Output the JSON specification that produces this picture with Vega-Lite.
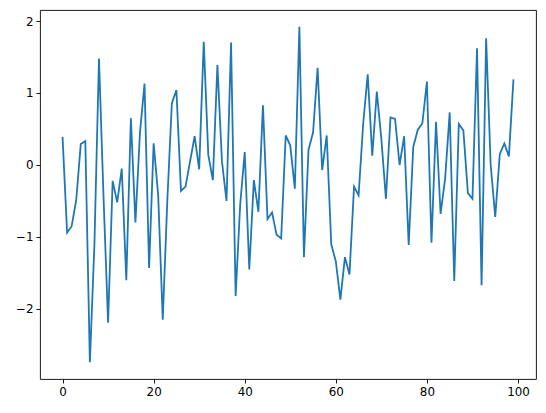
{
  "$schema": "https://vega.github.io/schema/vega-lite/v6.json",
  "width": 496,
  "height": 369,
  "autosize": {"type": "none"},
  "padding": {"left": 40, "top": 10, "right": 10, "bottom": 34},
  "background": "white",
  "config": {
    "view": {"stroke": "#000", "strokeWidth": 0.9},
    "axis": {
      "grid": false,
      "domain": false,
      "tickColor": "#000",
      "tickSize": 4,
      "tickWidth": 0.9,
      "labelColor": "#000",
      "labelFont": "DejaVu Sans",
      "labelFontSize": 11.9,
      "labelPadding": 3,
      "title": null
    }
  },
  "data": {"values": [
    {"i":0,"v":0.39},{"i":1,"v":-0.94},{"i":2,"v":-0.85},{"i":3,"v":-0.49},{"i":4,"v":0.29},
    {"i":5,"v":0.33},{"i":6,"v":-2.74},{"i":7,"v":-1.1},{"i":8,"v":1.48},{"i":9,"v":-0.45},
    {"i":10,"v":-2.19},{"i":11,"v":-0.22},{"i":12,"v":-0.52},{"i":13,"v":-0.05},{"i":14,"v":-1.6},
    {"i":15,"v":0.65},{"i":16,"v":-0.8},{"i":17,"v":0.45},{"i":18,"v":1.13},{"i":19,"v":-1.43},
    {"i":20,"v":0.3},{"i":21,"v":-0.42},{"i":22,"v":-2.15},{"i":23,"v":-0.5},{"i":24,"v":0.86},
    {"i":25,"v":1.04},{"i":26,"v":-0.36},{"i":27,"v":-0.3},{"i":28,"v":0.05},{"i":29,"v":0.4},
    {"i":30,"v":-0.06},{"i":31,"v":1.71},{"i":32,"v":0.14},{"i":33,"v":-0.21},{"i":34,"v":1.39},
    {"i":35,"v":0.05},{"i":36,"v":-0.5},{"i":37,"v":1.7},{"i":38,"v":-1.82},{"i":39,"v":-0.55},
    {"i":40,"v":0.18},{"i":41,"v":-1.45},{"i":42,"v":-0.21},{"i":43,"v":-0.65},{"i":44,"v":0.83},
    {"i":45,"v":-0.75},{"i":46,"v":-0.66},{"i":47,"v":-0.97},{"i":48,"v":-1.02},{"i":49,"v":0.41},
    {"i":50,"v":0.27},{"i":51,"v":-0.33},{"i":52,"v":1.92},{"i":53,"v":-1.28},{"i":54,"v":0.21},
    {"i":55,"v":0.45},{"i":56,"v":1.35},{"i":57,"v":-0.07},{"i":58,"v":0.41},{"i":59,"v":-1.1},
    {"i":60,"v":-1.34},{"i":61,"v":-1.87},{"i":62,"v":-1.28},{"i":63,"v":-1.52},{"i":64,"v":-0.3},
    {"i":65,"v":-0.42},{"i":66,"v":0.57},{"i":67,"v":1.26},{"i":68,"v":0.13},{"i":69,"v":1.02},
    {"i":70,"v":0.36},{"i":71,"v":-0.47},{"i":72,"v":0.66},{"i":73,"v":0.64},{"i":74,"v":0.0},
    {"i":75,"v":0.4},{"i":76,"v":-1.11},{"i":77,"v":0.25},{"i":78,"v":0.49},{"i":79,"v":0.58},
    {"i":80,"v":1.16},{"i":81,"v":-1.08},{"i":82,"v":0.6},{"i":83,"v":-0.68},{"i":84,"v":-0.19},
    {"i":85,"v":0.73},{"i":86,"v":-1.61},{"i":87,"v":0.57},{"i":88,"v":0.48},{"i":89,"v":-0.39},
    {"i":90,"v":-0.47},{"i":91,"v":1.62},{"i":92,"v":-1.67},{"i":93,"v":1.76},{"i":94,"v":0.0},
    {"i":95,"v":-0.72},{"i":96,"v":0.15},{"i":97,"v":0.3},{"i":98,"v":0.12},{"i":99,"v":1.19}
  ]},
  "mark": {"type": "line", "color": "#1f77b4", "strokeWidth": 1.8, "clip": true},
  "encoding": {
    "x": {
      "field": "i", "type": "quantitative",
      "scale": {"domain": [-4.95, 103.95], "nice": false, "zero": false},
      "axis": {"values": [0, 20, 40, 60, 80, 100], "format": "d"}
    },
    "y": {
      "field": "v", "type": "quantitative",
      "scale": {"domain": [-2.973, 2.153], "nice": false, "zero": false},
      "axis": {"values": [-2, -1, 0, 1, 2], "labelExpr": "replace(datum.label, '-', '−')"}
    }
  }
}
